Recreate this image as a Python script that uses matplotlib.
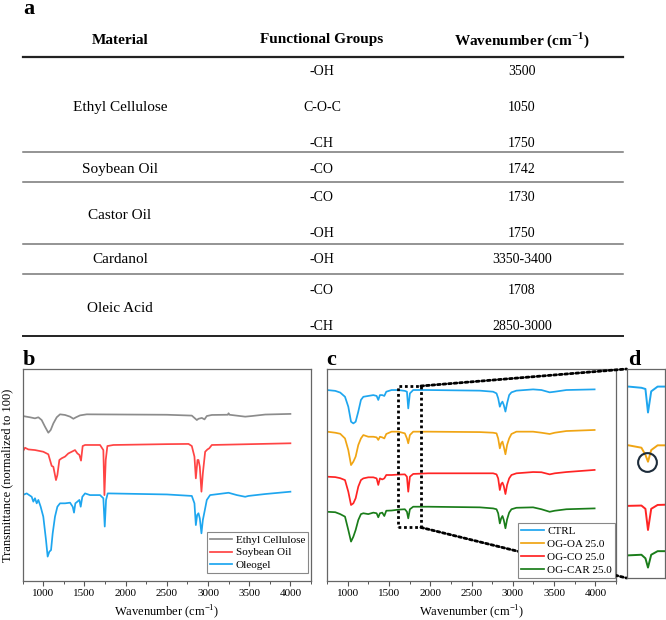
import matplotlib
matplotlib.use('Agg')
import matplotlib.pyplot as plt
from matplotlib.lines import Line2D
from matplotlib.patches import Rectangle, ConnectionPatch
from matplotlib.ticker import MultipleLocator

plt.rcParams['font.family'] = ['Liberation Serif', 'DejaVu Serif']
plt.rcParams['mathtext.fontset'] = 'custom'
plt.rcParams['mathtext.rm'] = 'Liberation Serif'
plt.rcParams['mathtext.bf'] = 'Liberation Serif:bold'

# ---------------- table data (panel a) ----------------
table_header = ["Material", "Functional Groups", r"Wavenumber (cm$^{\mathregular{-1}}$)"]
materials = ["Ethyl Cellulose", "Soybean Oil", "Castor Oil", "Cardanol", "Oleic Acid"]
groups = [["-OH", "C-O-C", "-CH"], ["-CO"], ["-CO", "-OH"], ["-OH"], ["-CO", "-CH"]]
wavenumbers = [["3500", "1050", "1750"], ["1742"], ["1730", "1750"], ["3350-3400"], ["1708", "2850-3000"]]

# ---------------- panel b spectra ----------------
ec_x = [750, 838, 899, 940, 980, 1020, 1061, 1090, 1122, 1163, 1203, 1264, 1325, 1365, 1397, 1446, 1527,
        2000, 2500, 2803, 2864, 2884, 2925, 2957, 2985, 3046, 3240, 3249, 3260, 3451, 3532, 3694, 4000]
ec_y = [77.9, 77.3, 76.8, 77.3, 76.0, 72.9, 70.0, 71.3, 74.4, 77.3, 78.7, 78.4, 77.6, 76.6, 77.3, 78.2, 78.7,
        78.6, 78.5, 78.1, 76.0, 76.6, 77.0, 76.3, 77.9, 78.4, 78.5, 79.2, 78.5, 77.6, 77.9, 78.6, 78.9]

soy_x = [750, 778, 818, 899, 1000, 1061, 1102, 1122, 1154, 1171, 1195, 1223, 1264, 1304, 1345, 1385, 1414,
         1438, 1458, 1478, 1507, 1689, 1729, 1742, 1758, 1778, 1851, 2500, 2763, 2803, 2835, 2852, 2872,
         2884, 2900, 2920, 2937, 2965, 2993, 3014, 3046, 4000]
soy_y = [61.0, 62.9, 62.1, 61.8, 61.0, 59.8, 54.3, 53.9, 47.6, 50.0, 57.1, 57.9, 58.7, 60.2, 61.0, 61.8, 60.2,
         59.5, 56.8, 63.7, 64.2, 64.2, 61.8, 40.5, 57.1, 63.7, 64.2, 64.6, 64.7, 63.7, 58.7, 48.4, 57.1,
         57.1, 53.9, 42.1, 50.8, 61.0, 62.1, 62.6, 64.2, 65.0]

ole_x = [750, 798, 859, 879, 899, 920, 940, 968, 1000, 1033, 1053, 1073, 1094, 1114, 1142, 1171, 1203, 1264,
         1325, 1357, 1373, 1389, 1414, 1438, 1454, 1474, 1507, 1567, 1689, 1729, 1746, 1762, 1782, 2500,
         2803, 2835, 2852, 2868, 2884, 2900, 2920, 2937, 2957, 2985, 3025, 3249, 3350, 3451, 3491, 3694, 4000]
ole_y = [40.5, 41.3, 39.7, 37.4, 39.0, 36.6, 38.2, 35.0, 30.3, 19.2, 11.4, 13.7, 14.5, 22.4, 30.3, 35.0, 36.6, 36.6,
         36.9, 35.0, 32.2, 36.6, 37.4, 38.2, 35.0, 39.7, 41.3, 40.5, 40.5, 39.0, 25.6, 38.2, 41.3, 40.8,
         40.1, 36.6, 26.3, 31.1, 31.9, 29.5, 22.4, 28.7, 32.6, 38.2, 40.5, 41.6, 40.5, 39.7, 40.1, 41.0, 42.1]

b_labels = ["Ethyl Cellulose", "Soybean Oil", "Oleogel"]
b_colors = ["#8c8c8c", "#ff4444", "#1ea6ef"]

# ---------------- panel c/d spectra ----------------
c_x = [750, 850, 910, 968, 1008, 1041, 1069, 1097, 1129, 1161, 1190, 1250, 1311, 1351, 1371, 1391, 1419, 1444,
       1468, 1532, 1613, 1693, 1718, 1734, 1754, 1794, 1975, 2601, 2762, 2803, 2823, 2843, 2859, 2875,
       2891, 2911, 2931, 2956, 2984, 3044, 3246, 3347, 3447, 3508, 3649, 3991]
ctrl_y = [90.2, 89.8, 89.0, 87.0, 82.3, 75.2, 74.4, 75.2, 80.0, 85.5, 87.0, 87.4, 87.8, 87.4, 85.5, 87.8, 87.8, 87.4,
          89.4, 90.2, 90.2, 89.8, 89.4, 81.5, 88.6, 90.2, 90.2, 89.9, 89.4, 88.6, 86.3, 82.3, 83.9, 84.7,
          83.1, 80.0, 83.9, 87.8, 89.1, 89.9, 90.5, 90.2, 89.1, 89.4, 90.2, 90.5]
oa_y = [70.5, 70.0, 69.5, 67.3, 61.8, 54.7, 56.3, 58.7, 64.2, 67.3, 68.9, 68.1, 68.1, 67.8, 66.6, 68.1, 67.8, 67.3,
        69.4, 70.5, 70.5, 69.7, 67.3, 65.0, 68.9, 70.5, 70.5, 70.3, 70.0, 69.7, 67.3, 62.6, 65.0, 65.8,
        63.4, 59.8, 64.2, 67.3, 69.4, 70.5, 70.5, 70.0, 69.4, 70.0, 70.8, 71.3]
co_y = [49.2, 49.0, 48.5, 47.6, 42.1, 35.8, 36.6, 39.0, 44.5, 47.6, 48.4, 48.9, 48.9, 48.4, 45.3, 48.4, 47.9, 48.4,
        50.0, 50.0, 50.2, 50.3, 49.2, 42.1, 49.2, 50.5, 50.8, 50.8, 50.8, 50.3, 48.4, 42.9, 45.7, 46.4,
        44.8, 41.0, 45.3, 48.4, 50.0, 50.8, 51.4, 51.3, 50.3, 50.8, 51.4, 52.4]
car_y = [32.6, 32.4, 31.5, 30.3, 24.0, 18.5, 20.8, 24.0, 28.7, 31.5, 31.9, 31.5, 32.2, 31.9, 30.0, 31.9, 32.2, 30.6,
         33.1, 33.2, 33.6, 33.8, 32.6, 29.5, 33.8, 35.0, 35.0, 34.7, 34.2, 33.8, 31.9, 27.1, 29.5, 30.6,
         28.7, 24.8, 29.0, 32.2, 33.8, 34.5, 34.7, 33.8, 32.6, 33.1, 33.8, 34.2]
c_labels = ["CTRL", "OG-OA 25.0", "OG-CO 25.0", "OG-CAR 25.0"]
c_colors = ["#1ea6ef", "#f0a514", "#ff2424", "#1a7d1a"]

# ---------------- figure ----------------
W, H = 666, 620
fig = plt.figure(figsize=(W / 100, H / 100), dpi=100)


def fx(px):
    return px / W


def fy(py):
    return 1 - py / H


# panel letters
for lab, px, py in [("a", 23, 14), ("b", 23, 365), ("c", 326, 365), ("d", 628, 365)]:
    fig.text(fx(px), fy(py), lab, fontsize=16, fontweight='bold', ha='left', va='baseline')

# ---- table ----
col_x = [120, 322, 522]
for s, x in zip(table_header, col_x):
    fig.text(fx(x), fy(40), s, fontsize=11, fontweight='bold', ha='center', va='center')

row_y = [[71.7, 107.5, 143.5], [169.5], [197.5, 233.5], [259.5], [290.5, 327]]
mat_y = [107.5, 169.5, 215.5, 259.5, 308.5]
for m, gs, ws, ys, my in zip(materials, groups, wavenumbers, row_y, mat_y):
    fig.text(fx(col_x[0]), fy(my), m, fontsize=11, ha='center', va='center')
    for g, w, y in zip(gs, ws, ys):
        fig.text(fx(col_x[1]), fy(y), g, fontsize=10, ha='center', va='center')
        fig.text(fx(col_x[2]), fy(y), w, fontsize=10, ha='center', va='center')

x0, x1 = fx(22.7), fx(623)
fig.add_artist(Line2D([x0, x1], [fy(56.7)] * 2, color='#222222', lw=1.6))
for yy in [152, 182, 244, 274]:
    fig.add_artist(Line2D([x0, x1], [fy(yy)] * 2, color='#777777', lw=1.1))
fig.add_artist(Line2D([x0, x1], [fy(336)] * 2, color='#222222', lw=1.4))

# ---- axes ----
top, bot = 369.3, 580.7
ax_b = fig.add_axes([fx(22.7), fy(bot), fx(311 - 22.7), (bot - top) / H])
ax_c = fig.add_axes([fx(327), fy(bot), fx(616 - 327), (bot - top) / H])
ax_d = fig.add_axes([fx(626.5), fy(578), fx(665 - 626.5), (578 - 369) / H])

for ax in (ax_b, ax_c):
    ax.set_xlim(750, 4250)
    ax.set_ylim(0, 100)
    ax.set_yticks([])
    ax.xaxis.set_major_locator(MultipleLocator(500))
    ax.xaxis.set_minor_locator(MultipleLocator(250))
    ax.tick_params(axis='x', which='major', direction='out', length=3.5, width=0.8, color='#555555',
                   labelsize=8, pad=2.5)
    ax.tick_params(axis='x', which='minor', direction='out', length=2, width=0.7, color='#555555')
    ax.tick_params(top=False, right=False, left=False)
    for sp in ax.spines.values():
        sp.set_color('#666666')
        sp.set_linewidth(0.9)
    ax.set_xlabel(r"Wavenumber (cm$^{\mathregular{-1}}$)", fontsize=9, labelpad=4)

fig.text(fx(7), fy((top + bot) / 2), "Transmittance (normalized to 100)", rotation=90,
         fontsize=9, ha='center', va='center')

for x, y, c, l in zip([ec_x, soy_x, ole_x], [ec_y, soy_y, ole_y], b_colors, b_labels):
    ax_b.plot(x, y, color=c, lw=1.25, label=l)

leg_b = ax_b.legend(loc='lower right', bbox_to_anchor=(0.991, 0.035), borderaxespad=0, fontsize=8,
                    frameon=True, fancybox=False, edgecolor='#888888', framealpha=1,
                    handlelength=2.0, handletextpad=0.3, labelspacing=0.25, borderpad=0.3)
leg_b.get_frame().set_linewidth(0.8)

for y, c, l in zip([ctrl_y, oa_y, co_y, car_y], c_colors, c_labels):
    ax_c.plot(c_x, y, color=c, lw=1.25, label=l)
    ax_d.plot(c_x, y, color=c, lw=1.4)

leg_c = ax_c.legend(loc='lower right', bbox_to_anchor=(0.997, 0.011), borderaxespad=0, fontsize=8,
                    frameon=True, fancybox=False, edgecolor='#888888', framealpha=1,
                    handlelength=2.0, handletextpad=0.3, labelspacing=0.3, borderpad=0.3)
leg_c.get_frame().set_linewidth(0.8)
leg_c.set_zorder(6)

# zoom box in c
dots = (0, (1, 1))
rect = Rectangle((1613, 25.2), 1887 - 1613, 92.1 - 25.2, fill=False, ls=dots, lw=2, ec='black', zorder=3)
ax_c.add_patch(rect)

ax_d.set_xlim(1600, 1840)
ax_d.set_ylim(26.0, 96.1)
ax_d.set_xticks([])
ax_d.set_yticks([])
for sp in ax_d.spines.values():
    sp.set_color('#666666')
    sp.set_linewidth(0.9)

for xyA, xyB in [((1887, 92.1), (0, 1)), ((1887, 25.2), (0, 0))]:
    con = ConnectionPatch(xyA=xyA, coordsA=ax_c.transData, xyB=xyB, coordsB=ax_d.transAxes,
                          ls=dots, lw=2, color='black', zorder=3)
    ax_c.add_artist(con)
    con.set_clip_on(False)

ax_d.plot([1730], [64.8], marker='o', ms=13.5, mfc='none', mec='#1c2b3a', mew=1.5, clip_on=False)

fig.savefig('out.png', dpi=100)
